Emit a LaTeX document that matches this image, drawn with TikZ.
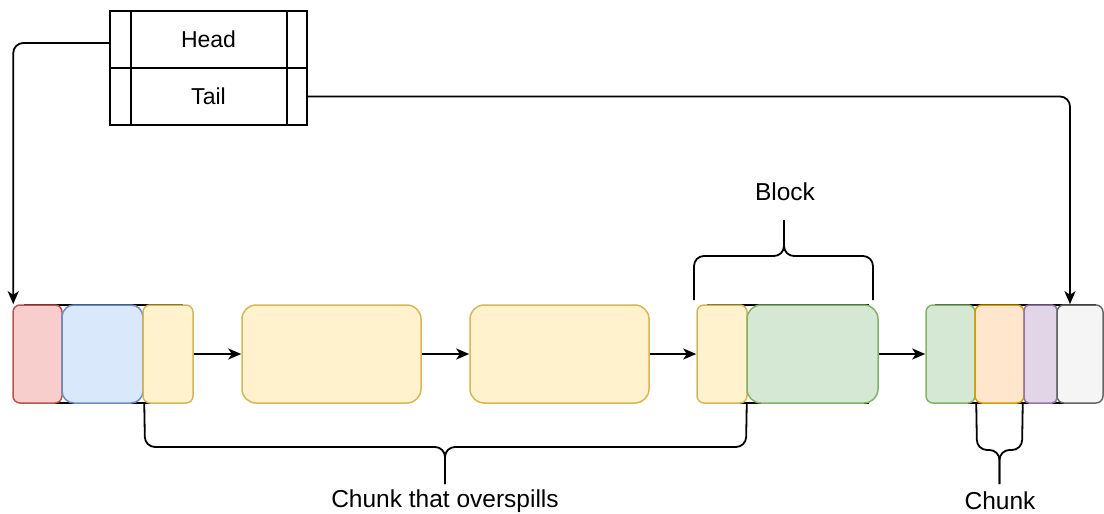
\documentclass[tikz,border=0pt]{standalone}
\usepackage{fontspec}
\setmainfont{Liberation Sans}
\usetikzlibrary{arrows.meta}

\definecolor{redF}{HTML}{F8CECC}\definecolor{redD}{HTML}{B85450}
\definecolor{bluF}{HTML}{DAE8FC}\definecolor{bluD}{HTML}{6C8EBF}
\definecolor{yelF}{HTML}{FFF2CC}\definecolor{yelD}{HTML}{D6B656}
\definecolor{grnF}{HTML}{D5E8D4}\definecolor{grnD}{HTML}{82B366}
\definecolor{orgF}{HTML}{FFE6CC}\definecolor{orgD}{HTML}{D79B00}
\definecolor{purF}{HTML}{E1D5E7}\definecolor{purD}{HTML}{9673A6}
\definecolor{gryF}{HTML}{F5F5F5}\definecolor{gryD}{HTML}{666666}

\tikzset{
  cell/.style={line width=1.5pt, inner sep=0pt, minimum height=98pt, rounded corners=#1},
  redc/.style={cell=7pt, fill=redF, draw=redD},
  bluc/.style={cell=12pt, fill=bluF, draw=bluD},
  yelc/.style={cell=7pt, fill=yelF, draw=yelD},
  yelbig/.style={cell=14pt, fill=yelF, draw=yelD},
  grnc/.style={cell=7pt, fill=grnF, draw=grnD},
  grnbig/.style={cell=14pt, fill=grnF, draw=grnD},
  orgc/.style={cell=7pt, fill=orgF, draw=orgD},
  purc/.style={cell=5pt, fill=purF, draw=purD},
  gryc/.style={cell=7pt, fill=gryF, draw=gryD},
  holder/.style={draw=black, line width=1.5pt},
  row/.style={draw=black, line width=1.5pt, inner sep=0pt, minimum width=197pt, minimum height=57pt},
  link/.style={line width=1.8pt, -{Stealth[length=13pt, width=11pt, inset=3.5pt]}},
  elbow/.style={link, rounded corners=10pt},
  brace/.style={line width=1.8pt, rounded corners=10pt},
  lbl/.style={font=\fontsize{23}{27}\selectfont, inner sep=0pt},
  biglbl/.style={font=\fontsize{24.5}{29}\selectfont, inner sep=0pt},
}

\begin{document}
\begin{tikzpicture}[x=1pt, y=-1pt]
\useasboundingbox (0,0) rectangle (1104,514);

% pointer table
\node[row, lbl] (head) at (208.5,39.5) {Head};
\node[row, lbl] (tail) at (208.5,96.5) {Tail};
\draw[line width=1.5pt] (131,11) -- (131,125) (287,11) -- (287,125);

% frames behind the grouped cells
\draw[holder] (25,305) rectangle (182,403);
\draw[holder] (708,305) rectangle (868,403);
\draw[holder] (936,305) rectangle (1095,403);

% first block
\node[redc, minimum width=49pt] (r1) at (37.5,354) {};
\node[bluc, minimum width=81pt] (b1) at (102.5,354) {};
\node[yelc, minimum width=50pt] (y1) at (168,354) {};

% middle blocks
\node[yelbig, minimum width=179pt] (y2) at (331.5,354) {};
\node[yelbig, minimum width=179pt] (y3) at (559.5,354) {};

% block with overspill
\node[yelc, minimum width=50pt] (y4) at (722,354) {};
\node[grnbig, minimum width=131pt] (g1) at (812.5,354) {};

% last block
\node[grnc, minimum width=49pt] (g2) at (950.5,354) {};
\node[orgc, minimum width=49pt] (o1) at (999.5,354) {};
\node[purc, minimum width=33pt] (p1) at (1040.5,354) {};
\node[gryc, minimum width=46pt] (k1) at (1080,354) {};

% links between blocks
\draw[link] (y1.east) -- (y2.west);
\draw[link] (y2.east) -- (y3.west);
\draw[link] (y3.east) -- (y4.west);
\draw[link] (g1.east) -- (g2.west);

% head and tail pointers
\coordinate (hd) at ([yshift=-3.5pt]head.west);
\draw[elbow] (hd) -| ([xshift=1pt]r1.north west);
\draw[elbow] (tail.east) -| ([xshift=-10pt]k1.north);

% brace over the block
\coordinate (bl) at (694,300);
\coordinate (br) at (873,300);
\draw[brace] (bl) -- (694,256) -- (784,256) -- (784,220);
\draw[brace] (br) -- (873,256) -- (784,256) -- (784,220);
\node[biglbl] (blk) at (785,192) {Block};

% brace under the overspilling chunk
\draw[brace] ([xshift=2pt]y1.south west) -- (145,447) -- (445,447) -- (445,484);
\draw[brace] ([xshift=-1pt]y4.south east) -- (746,447) -- (445,447) -- (445,484);
\node[biglbl] (ovs) at (445,501) {Chunk that overspills};

% brace under a single chunk
\draw[brace] ([xshift=2pt]o1.south west) -- (977,450) -- (999.5,450) -- (999.5,484);
\draw[brace] ([xshift=-2pt]o1.south east) -- (1022,450) -- (999.5,450) -- (999.5,484);
\node[biglbl] (chk) at (1000,501) {Chunk};
\end{tikzpicture}
\end{document}
